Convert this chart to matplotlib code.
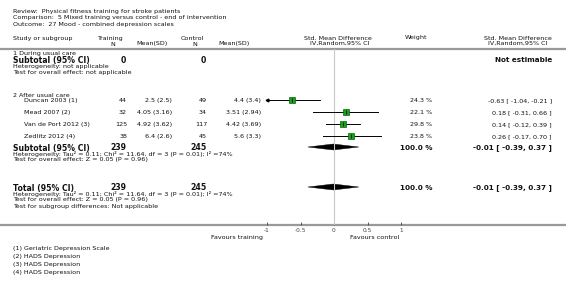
import matplotlib
matplotlib.use("Agg")
import matplotlib.pyplot as plt
from matplotlib.patches import Polygon

# ---- data ----
studies = ["Duncan 2003 (1)", "Mead 2007 (2)", "Van de Port 2012 (3)", "Zedlitz 2012 (4)"]
train_n = [44, 32, 125, 38]
train_msd = ["2.5 (2.5)", "4.05 (3.16)", "4.92 (3.62)", "6.4 (2.6)"]
ctrl_n = [49, 34, 117, 45]
ctrl_msd = ["4.4 (3.4)", "3.51 (2.94)", "4.42 (3.69)", "5.6 (3.3)"]
weights = [24.3, 22.1, 29.8, 23.8]
smd = [-0.63, 0.18, 0.14, 0.26]
ci_lo = [-1.04, -0.31, -0.12, -0.17]
ci_hi = [-0.21, 0.66, 0.39, 0.70]
pooled = [-0.01, -0.39, 0.37]
sub_n = [239, 245]
ticks = [-1, -0.5, 0, 0.5, 1]
tick_labels = ["-1", "-0.5", "0", "0.5", "1"]
footnotes = ["(1) Geriatric Depression Scale", "(2) HADS Depression",
             "(3) HADS Depression", "(4) HADS Depression"]
header = ["Review:  Physical fitness training for stroke patients",
          "Comparison:  5 Mixed training versus control - end of intervention",
          "Outcome:  27 Mood - combined depression scales"]

W, H = 566, 286
fig = plt.figure(figsize=(W / 100, H / 100), dpi=100)
bg = fig.add_axes([0, 0, 1, 1])
bg.set_xlim(0, W)
bg.set_ylim(H, 0)
bg.axis("off")

FS = 4.6
BFS = 5.6
TC = "#111111"

def txt(x, y, s, ha="left", size=FS, bold=False):
    bg.text(x, y, s, ha=ha, va="center_baseline", fontsize=size, color=TC,
            fontweight="bold" if bold else "normal", family="DejaVu Sans")

# header block
for i, s in enumerate(header):
    txt(13, 11 + i * 6.5, s)
txt(13, 38, "Study or subgroup")
txt(110, 38, "Training", ha="center")
txt(113, 43.5, "N", ha="center")
txt(152, 43.5, "Mean(SD)", ha="center")
txt(192, 38, "Control", ha="center")
txt(195, 43.5, "N", ha="center")
txt(234, 43.5, "Mean(SD)", ha="center")
txt(338, 37.5, "Std. Mean Difference", ha="center")
txt(340, 43, "IV,Random,95% CI", ha="center")
txt(416, 37.5, "Weight", ha="center")
txt(518, 37.5, "Std. Mean Difference", ha="center")
txt(518, 43, "IV,Random,95% CI", ha="center")

bg.plot([0, W], [49, 49], color="#999999", lw=1.6)
bg.plot([0, W], [225, 225], color="#999999", lw=1.6)

# subgroup 1
txt(13, 53, "1 During usual care")
txt(13, 59.5, "Subtotal (95% CI)", size=BFS, bold=True)
txt(126, 59.5, "0", ha="right", size=BFS, bold=True)
txt(206, 59.5, "0", ha="right", size=BFS, bold=True)
txt(552, 59.5, "Not estimable", ha="right", size=5.2, bold=True)
txt(13, 66, "Heterogeneity: not applicable")
txt(13, 72, "Test for overall effect: not applicable")

# subgroup 2
txt(13, 95, "2 After usual care")
rows_y = [100, 112, 124, 136]
for i, y in enumerate(rows_y):
    txt(24, y, studies[i])
    txt(127, y, str(train_n[i]), ha="right")
    txt(172, y, train_msd[i], ha="right")
    txt(207, y, str(ctrl_n[i]), ha="right")
    txt(261, y, ctrl_msd[i], ha="right")
    txt(432, y, "%.1f %%" % weights[i], ha="right")
    txt(552, y, "%.2f [ %.2f, %.2f ]" % (smd[i], ci_lo[i], ci_hi[i]), ha="right")

ci_txt = "%.2f [ %.2f, %.2f ]" % tuple(pooled)
for y in [147, 187]:
    txt(13, y, "Subtotal (95% CI)" if y == 147 else "Total (95% CI)", size=BFS, bold=True)
    txt(126, y, str(sub_n[0]), ha="right", size=BFS, bold=True)
    txt(207, y, str(sub_n[1]), ha="right", size=BFS, bold=True)
    txt(433, y, "100.0 %", ha="right", size=5.2, bold=True)
    txt(552, y, ci_txt, ha="right", size=5.2, bold=True)
    txt(13, y + 6.5, "Heterogeneity: Tau\u00b2 = 0.11; Chi\u00b2 = 11.64, df = 3 (P = 0.01); I\u00b2 =74%")
    txt(13, y + 12.5, "Test for overall effect: Z = 0.05 (P = 0.96)")
txt(13, 206, "Test for subgroup differences: Not applicable")

for i, s in enumerate(footnotes):
    txt(13, 248 + i * 8, s)

# ---- forest panel ----
x0, x1 = 267, 401
ax = fig.add_axes([x0 / W, (H - 225) / H, (x1 - x0) / W, (225 - 49) / H])
ax.set_xlim(-1, 1)
ax.set_ylim(225, 49)
for sp in ax.spines.values():
    sp.set_visible(False)
ax.set_yticks([])
ax.set_xticks(ticks)
ax.set_xticklabels(tick_labels, fontsize=4.2, color=TC)
ax.tick_params(axis="x", direction="in", length=2.5, width=0.6, pad=2, colors="#444444")
ax.patch.set_alpha(0)
ax.axvline(0, color="#c8c8c8", lw=0.8)

for i, y in enumerate(rows_y):
    lo = max(ci_lo[i], -1)
    ax.plot([lo, ci_hi[i]], [y, y], color="black", lw=0.7, clip_on=False)
    if ci_lo[i] < -1:
        ax.plot(-1, y, marker="<", color="black", ms=2, clip_on=False)
    ms = 3.6 * (weights[i] / 22.0) ** 0.5
    ax.plot(smd[i], y, marker="s", ms=ms, mfc="#1aa01a", mec="#0a640a", mew=0.5, clip_on=False)
    ax.plot(smd[i], y, marker="|", ms=2.5, color="black", mew=0.5, clip_on=False)

for y in [147, 187]:
    d = Polygon([(pooled[1], y), (pooled[0], y - 3), (pooled[2], y), (pooled[0], y + 3)],
                closed=True, fc="black", ec="black", lw=0.3)
    ax.add_patch(d)

txt(237, 237, "Favours training", ha="center")
txt(375, 237, "Favours control", ha="center")

fig.savefig("out.png", dpi=100)
